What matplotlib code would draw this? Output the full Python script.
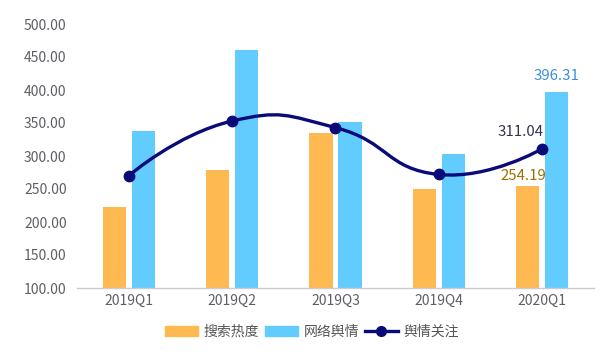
import numpy as np
import matplotlib
matplotlib.use("Agg")
import matplotlib.pyplot as plt
from matplotlib.path import Path
from matplotlib.patches import PathPatch, Patch
from matplotlib.lines import Line2D

plt.rcParams['font.family'] = ['Noto Sans CJK SC', 'DejaVu Sans']

categories = ["2019Q1", "2019Q2", "2019Q3", "2019Q4", "2020Q1"]
search_heat = [223.0, 279.0, 335.0, 250.0, 254.19]
net_opinion = [338.0, 461.0, 352.0, 303.0, 396.31]
attention = [270.0, 353.0, 343.0, 272.0, 311.04]
series_names = ["搜索热度", "网络舆情", "舆情关注"]
yticks = [100, 150, 200, 250, 300, 350, 400, 450, 500]

c_orange = "#FFB951"
c_blue = "#62CCFF"
c_line = "#0A0A78"

W, H = 605, 360
fig = plt.figure(figsize=(W / 100, H / 100), dpi=100)
left, right, bottom_px, top_px = 77, 594, 288, 24
ax = fig.add_axes([left / W, (H - bottom_px) / H, (right - left) / W, (bottom_px - top_px) / H])

x = np.arange(len(categories))
bw = 0.223
off = 0.14
ax.bar(x - off, search_heat, width=bw, color=c_orange, zorder=2)
ax.bar(x + off, net_opinion, width=bw, color=c_blue, zorder=2)

# echarts-like smooth bezier curve, computed in pixel-scaled space
sx = (right - left) / len(categories)
sy = (bottom_px - top_px) / 400.0
pts = np.column_stack([x * sx, np.array(attention) * sy])
smooth = 0.5
n = len(pts)
cps = []
for i in range(n):
    cur = pts[i]
    if i == 0 or i == n - 1:
        cps.append((cur, cur))
        continue
    prev, nxt = pts[i - 1], pts[i + 1]
    v = (nxt - prev) * smooth
    lp = np.linalg.norm(cur - prev)
    ln = np.linalg.norm(nxt - cur)
    r = ln / (lp + ln)
    cps.append((cur - v * (1 - r), cur + v * r))
verts = [tuple(pts[0])]
codes = [Path.MOVETO]
for i in range(n - 1):
    verts += [tuple(cps[i][1]), tuple(cps[i + 1][0]), tuple(pts[i + 1])]
    codes += [Path.CURVE4] * 3
verts = np.array(verts)
verts[:, 0] /= sx
verts[:, 1] /= sy
path = Path(verts, codes)
ax.add_patch(PathPatch(path, facecolor="none", edgecolor=c_line, lw=2.4, zorder=3, capstyle="round"))
ax.plot(x, attention, linestyle="none", marker="o", markersize=7.5, color=c_line, zorder=4)

ax.set_xlim(-0.5, len(categories) - 0.5)
ax.set_ylim(100, 500)
ax.set_yticks(yticks)
ax.set_yticklabels([f"{v:.2f}" for v in yticks])
ax.set_xticks(x)
ax.set_xticklabels(categories)
for sp in ["top", "right", "left"]:
    ax.spines[sp].set_visible(False)
ax.spines["bottom"].set_color("#CCCCCC")
ax.spines["bottom"].set_linewidth(1)
ax.tick_params(axis="both", length=0, labelsize=10, labelcolor="#5E5E66")
ax.tick_params(axis="y", pad=7.5)
ax.tick_params(axis="x", pad=4.5)

last = len(categories) - 1
ax.annotate(f"{attention[last]:.2f}", (x[last], attention[last]), xytext=(-16, 7),
            textcoords="offset points", ha="center", va="bottom", fontsize=10.8, color="#333355")
ax.annotate(f"{search_heat[last]:.2f}", (x[last] - off, search_heat[last]), xytext=(-3, 2),
            textcoords="offset points", ha="center", va="bottom", fontsize=10.8, color="#9A7000")
ax.annotate(f"{net_opinion[last]:.2f}", (x[last] + off, net_opinion[last]), xytext=(0, 7),
            textcoords="offset points", ha="center", va="bottom", fontsize=10.8, color="#3C8CD8")

handles = [Patch(color=c_orange), Patch(color=c_blue),
           Line2D([], [], color=c_line, lw=2.4, marker="o", markersize=7)]
fig.legend(handles, series_names, loc="center", bbox_to_anchor=(312 / W, (H - 332) / H),
           ncol=3, frameon=False, fontsize=10, labelcolor="#555555",
           handlelength=2.4, handleheight=0.7, handletextpad=0.4, columnspacing=0.4)

fig.savefig("out.png", dpi=100)
